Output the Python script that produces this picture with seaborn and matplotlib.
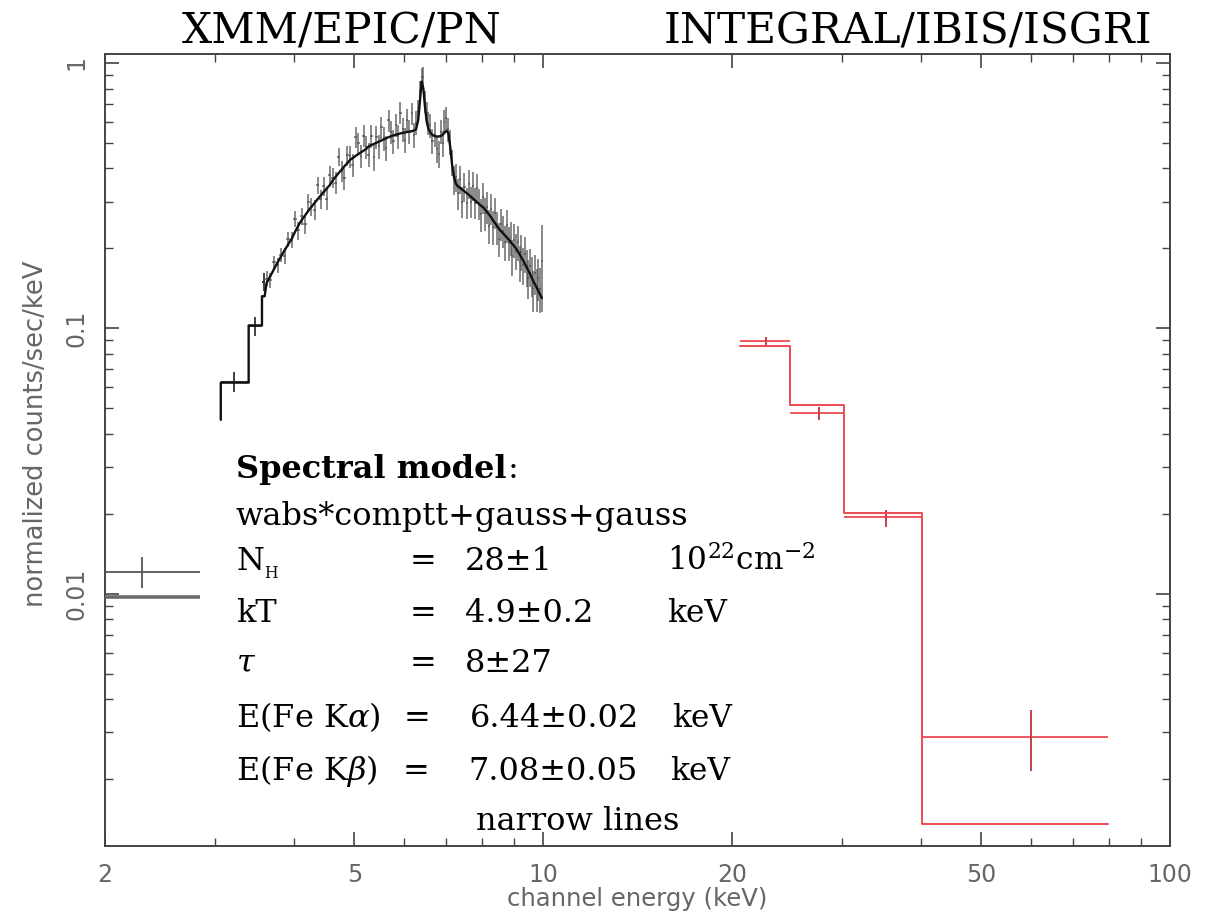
import numpy as np
import matplotlib
matplotlib.use("Agg")
import matplotlib.pyplot as plt
import matplotlib.ticker as mticker
import seaborn as sns
import pandas as pd

# ---------------- data ----------------
# XMM low-energy broad bins (keV)
xmm_low_edges = [3.06, 3.39, 3.56, 3.595]
xmm_low_model = [0.0624, 0.1025, 0.132]
xmm_low_start = 0.0452           # model level just before the first bin edge
xmm_low_e = [3.21, 3.47, 3.58]
xmm_low_rate = [0.063, 0.102, 0.150]
xmm_low_err = [0.0054, 0.0085, 0.012]

# XMM soft bin partly below 2 keV
xmm_soft_edges = [1.80, 2.83]
xmm_soft_e = [2.29]
xmm_soft_rate = [0.0121]
xmm_soft_err = [0.0016]
xmm_soft_model = [0.0097]

# XMM dense spectrum
xmm_e = [3.62, 3.67, 3.72, 3.77, 3.82, 3.87, 3.92, 3.97, 4.02, 4.07,
         4.12, 4.17, 4.22, 4.27, 4.32, 4.37, 4.42, 4.47, 4.52, 4.57,
         4.62, 4.67, 4.72, 4.77, 4.82, 4.87, 4.92, 4.97, 5.02, 5.07,
         5.12, 5.17, 5.22, 5.27, 5.32, 5.37, 5.42, 5.47, 5.52, 5.57,
         5.62, 5.67, 5.72, 5.77, 5.82, 5.87, 5.92, 5.97, 6.02, 6.07,
         6.12, 6.17, 6.22, 6.27, 6.32, 6.36, 6.40, 6.44, 6.48, 6.52,
         6.56, 6.61, 6.66, 6.71, 6.76, 6.81, 6.86, 6.91, 6.96, 7.01,
         7.06, 7.11, 7.16, 7.21, 7.26, 7.31, 7.37, 7.43, 7.49, 7.55,
         7.61, 7.67, 7.73, 7.79, 7.85, 7.91, 7.97, 8.03, 8.09, 8.15,
         8.21, 8.27, 8.33, 8.39, 8.45, 8.51, 8.57, 8.63, 8.69, 8.75,
         8.81, 8.87, 8.93, 8.99, 9.05, 9.11, 9.17, 9.23, 9.29, 9.35,
         9.41, 9.47, 9.53, 9.59, 9.65, 9.71, 9.77, 9.83, 9.89, 9.95]
xmm_model = [0.148, 0.157, 0.167, 0.177, 0.187, 0.197, 0.207, 0.217, 0.231, 0.244,
             0.256, 0.266, 0.277, 0.287, 0.297, 0.307, 0.317, 0.327, 0.337, 0.347,
             0.362, 0.373, 0.385, 0.396, 0.408, 0.419, 0.431, 0.438, 0.446, 0.453,
             0.460, 0.467, 0.474, 0.485, 0.490, 0.495, 0.500, 0.505, 0.510, 0.515,
             0.520, 0.525, 0.529, 0.533, 0.536, 0.539, 0.542, 0.545, 0.547, 0.549,
             0.551, 0.553, 0.556, 0.562, 0.610, 0.720, 0.850, 0.800, 0.680, 0.600,
             0.565, 0.545, 0.535, 0.530, 0.528, 0.528, 0.530, 0.535, 0.545, 0.555,
             0.545, 0.480, 0.410, 0.370, 0.350, 0.343, 0.338, 0.333, 0.328, 0.323,
             0.318, 0.313, 0.308, 0.303, 0.298, 0.293, 0.289, 0.285, 0.279, 0.273,
             0.267, 0.261, 0.254, 0.248, 0.242, 0.236, 0.232, 0.228, 0.224, 0.220,
             0.216, 0.212, 0.208, 0.204, 0.200, 0.195, 0.190, 0.185, 0.180, 0.175,
             0.170, 0.165, 0.160, 0.155, 0.150, 0.146, 0.142, 0.138, 0.134, 0.130]
xmm_rate = [0.154, 0.152, 0.177, 0.173, 0.189, 0.187, 0.217, 0.215, 0.259, 0.234,
            0.264, 0.247, 0.299, 0.287, 0.279, 0.347, 0.307, 0.343, 0.307, 0.378,
            0.369, 0.354, 0.443, 0.392, 0.367, 0.448, 0.444, 0.412, 0.526, 0.498,
            0.446, 0.532, 0.483, 0.451, 0.529, 0.441, 0.525, 0.485, 0.571, 0.520,
            0.478, 0.609, 0.550, 0.506, 0.584, 0.528, 0.650, 0.561, 0.514, 0.609,
            0.551, 0.647, 0.534, 0.596, 0.660, 0.784, 0.882, 0.886, 0.718, 0.648,
            0.593, 0.583, 0.508, 0.541, 0.475, 0.454, 0.551, 0.498, 0.600, 0.622,
            0.561, 0.504, 0.422, 0.363, 0.371, 0.322, 0.365, 0.300, 0.341, 0.297,
            0.350, 0.300, 0.345, 0.297, 0.337, 0.296, 0.269, 0.311, 0.271, 0.287,
            0.243, 0.282, 0.241, 0.273, 0.240, 0.217, 0.248, 0.233, 0.211, 0.244,
            0.210, 0.220, 0.187, 0.216, 0.196, 0.211, 0.177, 0.194, 0.173, 0.191,
            0.170, 0.155, 0.171, 0.158, 0.140, 0.161, 0.141, 0.155, 0.141, 0.180]
xmm_err = [0.010, 0.010, 0.011, 0.011, 0.012, 0.013, 0.014, 0.015, 0.018, 0.018,
           0.020, 0.020, 0.022, 0.023, 0.024, 0.026, 0.026, 0.028, 0.028, 0.030,
           0.032, 0.033, 0.036, 0.036, 0.036, 0.040, 0.042, 0.042, 0.048, 0.046,
           0.045, 0.050, 0.048, 0.047, 0.052, 0.048, 0.053, 0.051, 0.056, 0.054,
           0.052, 0.058, 0.056, 0.054, 0.058, 0.056, 0.062, 0.058, 0.056, 0.060,
           0.058, 0.062, 0.058, 0.060, 0.064, 0.072, 0.078, 0.080, 0.068, 0.064,
           0.060, 0.060, 0.056, 0.058, 0.055, 0.054, 0.058, 0.056, 0.062, 0.062,
           0.058, 0.055, 0.048, 0.044, 0.045, 0.042, 0.044, 0.040, 0.043, 0.040,
           0.044, 0.040, 0.044, 0.040, 0.043, 0.040, 0.038, 0.041, 0.038, 0.039,
           0.035, 0.038, 0.035, 0.037, 0.034, 0.032, 0.034, 0.033, 0.031, 0.034,
           0.031, 0.032, 0.029, 0.032, 0.030, 0.031, 0.028, 0.030, 0.028, 0.030,
           0.027, 0.026, 0.028, 0.027, 0.025, 0.028, 0.026, 0.028, 0.027, 0.065]

# INTEGRAL/ISGRI bins
isgri_edges = [20.6, 24.8, 30.2, 40.2, 79.6]
isgri_e = [22.7, 27.5, 35.2, 60.0]
isgri_rate = [0.0897, 0.0481, 0.0195, 0.00289]
isgri_err_lo = [0.0030, 0.0029, 0.0016, 0.00075]
isgri_err_hi = [0.0033, 0.0026, 0.0012, 0.00077]
isgri_model = [0.0859, 0.0515, 0.0202, 0.00135]

x_ticks = [2, 5, 10, 20, 50, 100]
y_ticks = [0.01, 0.1, 1]
y_tick_labels = ["0.01", "0.1", "1"]

# ---------------- figure ----------------
sns.set_theme(style="ticks")
plt.rcParams["font.family"] = ["DejaVu Sans"]
plt.rcParams["mathtext.fontset"] = "dejavuserif"

W, H = 1207, 915
fig = plt.figure(figsize=(W / 100, H / 100), dpi=100)
fig.patch.set_facecolor("white")
L, R, T, B = 105, 1170, 54, 846
ax = fig.add_axes([L / W, 1 - B / H, (R - L) / W, (B - T) / H])
ax.set_facecolor("white")
ax.set_xscale("log")
ax.set_yscale("log")
ax.set_xlim(2, 100)
ax.set_ylim(0.00112, 1.08)

gray = "#505050"
red = "#ee4a52"

# soft bin
ax.errorbar(xmm_soft_e, xmm_soft_rate, yerr=xmm_soft_err,
            xerr=[[xmm_soft_e[0] - xmm_soft_edges[0]], [xmm_soft_edges[1] - xmm_soft_e[0]]],
            fmt="none", ecolor="#555555", elinewidth=1.3, capsize=0, zorder=3)
ax.plot(xmm_soft_edges, [xmm_soft_model[0]] * 2, color="#6a6a6a", lw=2.6, zorder=3,
        solid_capstyle="butt")

# dense XMM data
e = np.array(xmm_e)
mid = (e[1:] + e[:-1]) / 2
edges = np.concatenate([[xmm_low_edges[-1]], mid, [e[-1] + (e[-1] - e[-2]) / 2]])
xlo = e - edges[:-1]
xhi = edges[1:] - e
ax.errorbar(xmm_e, xmm_rate, yerr=xmm_err, xerr=[xlo, xhi], fmt="none",
            ecolor=gray, elinewidth=1.3, alpha=0.72, capsize=0, zorder=3)

# low-energy XMM data
lo_e = np.array(xmm_low_e)
le = np.array(xmm_low_edges)
ax.errorbar(xmm_low_e, xmm_low_rate, yerr=xmm_low_err,
            xerr=[lo_e - le[:-1], le[1:] - lo_e], fmt="none",
            ecolor="#333333", elinewidth=1.3, capsize=0, zorder=3)

# XMM model: broad bins as steps, then the finely binned part as a curve
sx = np.concatenate([[le[0]], np.repeat(le, 2)[1:-1], e])
sy = np.concatenate([[xmm_low_start], np.repeat(xmm_low_model, 2), xmm_model])
df_model = pd.DataFrame({"E": sx, "rate": sy})
sns.lineplot(data=df_model, x="E", y="rate", ax=ax, color="#111111", lw=1.7,
             estimator=None, sort=False, zorder=4)

# INTEGRAL data
ie = np.array(isgri_e)
ied = np.array(isgri_edges)
ax.errorbar(isgri_e, isgri_rate, yerr=[isgri_err_lo, isgri_err_hi],
            xerr=[ie - ied[:-1], ied[1:] - ie], fmt="none",
            ecolor=red, elinewidth=1.3, capsize=0, zorder=3)
ax.errorbar(isgri_e, isgri_rate, yerr=[isgri_err_lo, isgri_err_hi],
            fmt="none", ecolor="#c0414a", elinewidth=1.2, capsize=0, zorder=3)
isx = np.repeat(ied, 2)[1:-1]
isy = np.repeat(isgri_model, 2)
df_is = pd.DataFrame({"E": isx, "rate": isy})
sns.lineplot(data=df_is, x="E", y="rate", ax=ax, color=red, lw=1.4,
             estimator=None, sort=False, zorder=4)

ax.set_xlabel("")
ax.set_ylabel("")

# ---------------- axes styling ----------------
for sp in ax.spines.values():
    sp.set_visible(True)
    sp.set_color("#444444")
    sp.set_linewidth(1.4)

ax.xaxis.set_major_locator(mticker.FixedLocator(x_ticks))
ax.xaxis.set_major_formatter(mticker.FixedFormatter([str(v) for v in x_ticks]))
ax.xaxis.set_minor_locator(mticker.LogLocator(base=10, subs=np.arange(1, 10), numticks=20))
ax.xaxis.set_minor_formatter(mticker.NullFormatter())
ax.yaxis.set_major_locator(mticker.FixedLocator(y_ticks))
ax.yaxis.set_major_formatter(mticker.FixedFormatter(y_tick_labels))
ax.yaxis.set_minor_locator(mticker.LogLocator(base=10, subs=np.arange(2, 10), numticks=20))
ax.yaxis.set_minor_formatter(mticker.NullFormatter())
ax.tick_params(which="both", direction="in", top=True, right=True, color="#444444",
               labelcolor="#666666", labelsize=17)
ax.tick_params(which="major", length=10, width=1.2, pad=12)
ax.tick_params(which="minor", length=6, width=1.0)
ax.tick_params(axis="y", which="major", labelrotation=90, pad=12)
for lab in ax.get_yticklabels():
    lab.set_va("center")

fig.text(637 / W, 1 - 906 / H, "channel energy (keV)",
         ha="center", va="baseline", color="#666666", fontsize=17.5)
fig.text(36 / W, 1 - 434 / H, "normalized counts/sec/keV", rotation=90,
         ha="center", va="center", color="#666666", fontsize=18.5)

# titles
serif = ["DejaVu Serif"]
fig.text(342 / W, 1 - 44 / H, "XMM/EPIC/PN", ha="center", va="baseline",
         fontsize=30.5, family=serif, color="black")
fig.text(908 / W, 1 - 44 / H, "INTEGRAL/IBIS/ISGRI", ha="center", va="baseline",
         fontsize=30.5, family=serif, color="black")

# annotation block
fs = 23
def ftext(x, y, s, **kw):
    kw.setdefault("family", serif)
    kw.setdefault("fontsize", fs)
    return fig.text(x / W, 1 - y / H, s, ha="left", va="baseline", color="black", **kw)

t = ftext(236, 478, "Spectral model", weight="bold")
fig.canvas.draw()
bb = t.get_window_extent(renderer=fig.canvas.get_renderer())
ftext(bb.x1 + 1, 478, ":")

ftext(236, 525, "wabs*comptt+gauss+gauss")
rows = [
    (570, r"N$_{\mathrm{_H}}$", 410, "28\u00b11", 465, r"10$^{\mathrm{22}}$cm$^{\mathrm{-2}}$", 667),
    (622, "kT", 410, "4.9\u00b10.2", 465, "keV", 667),
    (672, r"$\tau$", 410, "8\u00b127", 465, "", 667),
    (727, r"E(Fe K$\alpha$)", 404, "6.44\u00b10.02", 470, "keV", 672),
    (780, r"E(Fe K$\beta$)", 403, "7.08\u00b10.05", 468, "keV", 670),
]
for y, lab, xe, val, xv, unit, xu in rows:
    ftext(236, y, lab)
    ftext(xe, y, "=")
    ftext(xv, y, val)
    if unit:
        ftext(xu, y, unit, fontsize=fs - 0.5)
ftext(476, 830, "narrow lines")

fig.savefig("out.png", dpi=100, facecolor="white")
